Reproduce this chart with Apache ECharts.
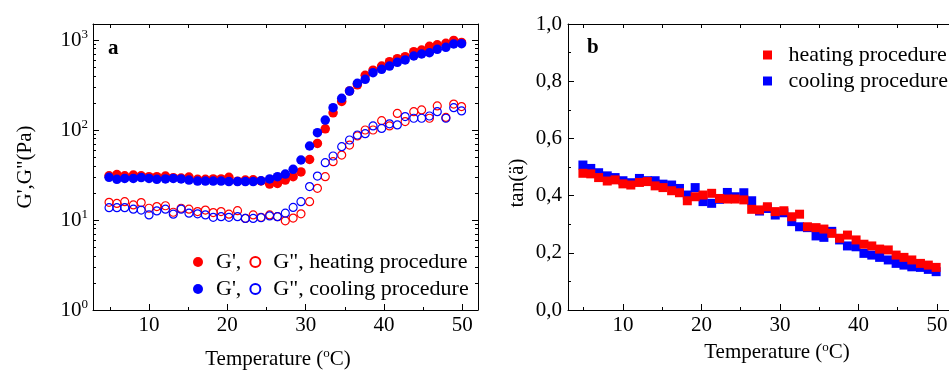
<!DOCTYPE html>
<html>
<head>
<meta charset="utf-8">
<title>G', G'' and tan vs temperature</title>
<script src="https://cdn.jsdelivr.net/npm/echarts@6/dist/echarts.min.js"></script>
<style>
  html, body { margin: 0; padding: 0; background: #fff; }
  #chart { width: 949px; height: 370px; }
</style>
</head>
<body>
<div id="chart"></div>
<script>
// temperature of every reading (both sweeps share it)
const temps = [4.9, 5.9, 6.9, 8.0, 9.0, 10.0, 11.0, 12.1, 13.1, 14.1, 15.1, 16.2, 17.2, 18.2, 19.2,
  20.2, 21.3, 22.3, 23.3, 24.3, 25.4, 26.4, 27.4, 28.4, 29.4, 30.5, 31.5, 32.5, 33.5, 34.6,
  35.6, 36.6, 37.6, 38.6, 39.7, 40.7, 41.7, 42.7, 43.8, 44.8, 45.8, 46.8, 47.9, 48.9, 49.9];

// panel a, Pa
const gpHeat = [31, 32, 31, 31.6, 31, 30.3, 30.3, 30.8, 29.5, 29.3, 30, 28.3, 28.3, 28.6, 28.6,
  29.8, 27, 27.8, 28, 27.2, 25.1, 25.5, 27.8, 30.3, 34.2, 47, 71, 103, 155, 208,
  272, 318, 405, 462, 514, 574, 620, 653, 742, 774, 850, 885, 919, 990, 940];
const gpCool = [29.8, 28.3, 29, 29, 29.6, 29, 28.3, 28.6, 29, 28.6, 27.8, 27.1, 27.1, 27.1, 27.1,
  26.7, 26.7, 26.7, 26.7, 27.3, 28.6, 30.3, 32.4, 36.6, 46.4, 66.4, 93.4, 129, 177, 225,
  271, 330, 366, 434, 472, 514, 565, 600, 664, 699, 722, 788, 830, 903, 911];
const gppHeat = [15.7, 15.3, 16, 14.7, 15.6, 13.5, 14.1, 14.4, 12.2, 13.5, 13.2, 12.4, 12.9, 12.1, 12.4,
  11.6, 12.7, 10.4, 11.4, 10.7, 11.4, 10.9, 9.8, 10.5, 11.7, 16, 22.5, 30.3, 44.5, 52.7,
  68, 86, 100, 100, 127, 111, 153, 124, 160, 167, 135, 185, 138, 194, 182];
const gppCool = [13.7, 13.7, 13.7, 13.2, 12.9, 11.4, 12.6, 13.2, 11.6, 13.2, 11.9, 11.7, 11.4, 10.7, 10.9,
  10.7, 10.9, 10.4, 10.4, 10.6, 11.1, 10.9, 11.9, 13.8, 16, 23.5, 30.8, 43.4, 51.4, 65.3,
  77.4, 88, 91, 111, 104, 117, 114, 141, 135, 135, 143, 160, 135, 177, 163];

// panel b
const tanHeat = [0.478, 0.476, 0.463, 0.451, 0.455, 0.441, 0.437, 0.446, 0.449, 0.434, 0.428, 0.417, 0.410, 0.382, 0.396,
  0.402, 0.408, 0.390, 0.388, 0.388, 0.385, 0.352, 0.350, 0.361, 0.344, 0.347, 0.326, 0.335, 0.291, 0.288,
  0.283, 0.268, 0.251, 0.262, 0.245, 0.230, 0.224, 0.213, 0.210, 0.192, 0.184, 0.175, 0.163, 0.157, 0.149];
const tanCool = [0.507, 0.495, 0.480, 0.469, 0.463, 0.452, 0.445, 0.460, 0.452, 0.452, 0.440, 0.437, 0.425, 0.402, 0.428,
  0.379, 0.373, 0.387, 0.411, 0.396, 0.410, 0.382, 0.346, 0.355, 0.332, 0.340, 0.309, 0.291, 0.288, 0.259,
  0.254, 0.275, 0.245, 0.224, 0.221, 0.198, 0.192, 0.184, 0.175, 0.163, 0.157, 0.151, 0.149, 0.142, 0.134];

// tick positions
const xMajor = [10, 20, 30, 40, 50];
const xMinorA = [5, 15, 25, 35, 45];
const xMinorB = [5, 15, 25, 35, 45, 55];
const xTopA = [5, 10, 15, 20, 25, 30, 35, 40, 45, 50];
const xTopB = [5, 10, 15, 20, 25, 30, 35, 40, 45, 50, 55];
const logMajor = [1, 10, 100, 1000];
const logMinor = [2, 3, 4, 5, 6, 7, 8, 9, 20, 30, 40, 50, 60, 70, 80, 90, 200, 300, 400, 500, 600, 700, 800, 900];

const FONT = 'Liberation Serif';
const RED = '#ff0000';
const BLUE = '#0000ff';

// legend texts of panel a
const legendText = {
  "G' heating": "G',",
  "G'' heating": 'G", heating procedure',
  "G' cooling": "G',",
  "G'' cooling": 'G", cooling procedure'
};

function pairs(vals) {
  return temps.map((t, i) => [t, vals[i]]);
}

const txt = { fontFamily: FONT, fontSize: 21, color: '#000' };
const legTxt = { fontFamily: FONT, fontSize: 22, color: '#000', lineHeight: 22 };
const blackLine = { show: true, onZero: false, lineStyle: { color: '#000', width: 1 } };
const noLine = { show: false };
const supRich = {
  s: { fontFamily: FONT, fontSize: 13, color: '#000', lineHeight: 12, verticalAlign: 'top' }
};

// one x axis helper: ticks only, or ticks + labels
function xAx(grid, min, max, pos, ticks, len, opts) {
  return Object.assign({
    type: 'value', gridIndex: grid, min: min, max: max, position: pos,
    axisLine: noLine,
    axisTick: { show: true, inside: true, length: len, customValues: ticks, lineStyle: { color: '#000' } },
    axisLabel: { show: false },
    splitLine: { show: false }
  }, opts || {});
}
function logAx(pos, ticks, len, opts) {
  return Object.assign({
    type: 'log', logBase: 10, gridIndex: 0, min: 1, max: 1506, position: pos,
    axisLine: noLine,
    axisTick: { show: true, inside: true, length: len, customValues: ticks, lineStyle: { color: '#000' } },
    axisLabel: { show: false },
    splitLine: { show: false }
  }, opts || {});
}

const chart = echarts.init(document.getElementById('chart'));

const option = {
  animation: false,
  backgroundColor: '#fff',
  title: [
    { text: 'a', left: 108, top: 38, padding: 0, textStyle: Object.assign({}, txt, { fontWeight: 'bold' }) },
    { text: 'b', left: 587, top: 37, padding: 0, textStyle: Object.assign({}, txt, { fontWeight: 'bold' }) }
  ],
  grid: [
    { left: 93, top: 24, width: 385, height: 286, outerBoundsMode: 'none', containLabel: false },
    { left: 568, top: 24, width: 418, height: 286, outerBoundsMode: 'none', containLabel: false }
  ],
  legend: [
    {
      data: ["G' heating", "G'' heating"], left: 193, top: 251, orient: 'horizontal',
      itemWidth: 26, itemHeight: 10, itemGap: 8, padding: 0, selectedMode: false,
      formatter: n => legendText[n], textStyle: legTxt
    },
    {
      data: ["G' cooling", "G'' cooling"], left: 193, top: 278, orient: 'horizontal',
      itemWidth: 26, itemHeight: 10, itemGap: 8, padding: 0, selectedMode: false,
      formatter: n => legendText[n], textStyle: legTxt
    },
    {
      data: ['heating procedure', 'cooling procedure'], left: 763, top: 44, orient: 'vertical',
      icon: 'path://M0 0H10V10H0Z', itemWidth: 32, itemHeight: 9, itemGap: 4, padding: 0,
      selectedMode: false, textStyle: legTxt
    }
  ],
  xAxis: [
    xAx(0, 2.85, 52, 'bottom', xMajor, 6, {
      axisLine: blackLine,
      axisLabel: Object.assign({ show: true, customValues: xMajor, margin: 5 }, txt),
      name: 'Temperature ({s|o}C)', nameLocation: 'middle', nameGap: 37,
      nameTextStyle: Object.assign({ lineHeight: 24, padding: [0, 15, 0, 0], rich: supRich }, txt)
    }),
    xAx(0, 2.85, 52, 'bottom', xMinorA, 3),
    xAx(0, 2.85, 52, 'top', xTopA, 4, { axisLine: blackLine }),
    xAx(1, 3, 56.25, 'bottom', xMajor, 6, {
      axisLine: blackLine,
      axisLabel: Object.assign({ show: true, customValues: xMajor, margin: 5 }, txt),
      name: 'Temperature ({s|o}C)', nameLocation: 'middle', nameGap: 28,
      nameTextStyle: Object.assign({ lineHeight: 24, rich: supRich }, txt)
    }),
    xAx(1, 3, 56.25, 'bottom', xMinorB, 3),
    xAx(1, 3, 56.25, 'top', xTopB, 4, { axisLine: blackLine })
  ],
  yAxis: [
    logAx('left', logMajor, 6, {
      axisLine: blackLine,
      axisLabel: {
        show: true, customValues: logMajor, margin: 5,
        formatter: v => '{b|10}{s|' + Math.round(Math.log10(v)) + '}',
        rich: {
          b: { fontFamily: FONT, fontSize: 21, color: '#000', lineHeight: 24 },
          s: { fontFamily: FONT, fontSize: 13, color: '#000', lineHeight: 12, verticalAlign: 'top' }
        }
      },
      name: "G',G\"(Pa)", nameLocation: 'middle', nameGap: 56,
      nameTextStyle: Object.assign({ lineHeight: 24 }, txt)
    }),
    logAx('left', logMinor, 3),
    logAx('right', logMajor, 6, { axisLine: blackLine }),
    logAx('right', logMinor, 3),
    {
      type: 'value', gridIndex: 1, min: 0, max: 1, interval: 0.2, position: 'left',
      axisLine: blackLine,
      axisTick: { show: true, inside: true, length: 6, lineStyle: { color: '#000' } },
      minorTick: { show: true, splitNumber: 2, length: 3, lineStyle: { color: '#000' } },
      axisLabel: Object.assign({ margin: 6, formatter: v => v.toFixed(1).replace('.', ',') }, txt),
      splitLine: { show: false },
      name: 'tan(ä)', nameLocation: 'middle', nameGap: 39,
      nameTextStyle: Object.assign({ lineHeight: 24, padding: [0, 32, 0, 0] }, txt)
    }
  ],
  series: [
    {
      name: "G' heating", type: 'scatter', xAxisIndex: 0, yAxisIndex: 0, data: pairs(gpHeat),
      symbol: 'circle', symbolSize: 9.5, itemStyle: { color: RED, opacity: 1 }, silent: true
    },
    {
      name: "G' cooling", type: 'scatter', xAxisIndex: 0, yAxisIndex: 0, data: pairs(gpCool),
      symbol: 'circle', symbolSize: 9.5, itemStyle: { color: BLUE, opacity: 1 }, silent: true
    },
    {
      name: "G'' heating", type: 'scatter', xAxisIndex: 0, yAxisIndex: 0, data: pairs(gppHeat),
      symbol: 'circle', symbolSize: 8,
      itemStyle: { color: 'rgba(255,255,255,0)', borderColor: RED, borderWidth: 1.2, opacity: 1 }, silent: true
    },
    {
      name: "G'' cooling", type: 'scatter', xAxisIndex: 0, yAxisIndex: 0, data: pairs(gppCool),
      symbol: 'circle', symbolSize: 8,
      itemStyle: { color: 'rgba(255,255,255,0)', borderColor: BLUE, borderWidth: 1.2, opacity: 1 }, silent: true
    },
    {
      name: 'cooling procedure', type: 'scatter', xAxisIndex: 3, yAxisIndex: 4, data: pairs(tanCool),
      symbol: 'rect', symbolSize: 9, itemStyle: { color: BLUE, opacity: 1 }, silent: true
    },
    {
      name: 'heating procedure', type: 'scatter', xAxisIndex: 3, yAxisIndex: 4, data: pairs(tanHeat),
      symbol: 'rect', symbolSize: 9, itemStyle: { color: RED, opacity: 1 }, silent: true
    }
  ]
};

chart.setOption(option);
</script>
</body>
</html>
